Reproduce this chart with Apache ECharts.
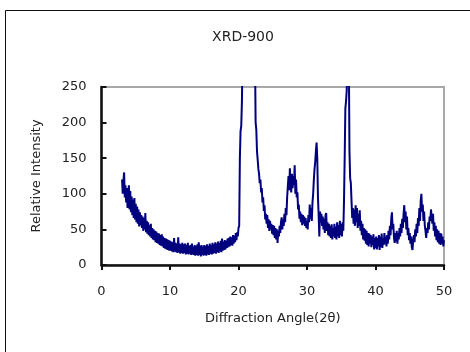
<!DOCTYPE html>
<html>
<head>
<meta charset="utf-8">
<script src="https://cdn.jsdelivr.net/npm/echarts@6/dist/echarts.min.js"></script>
<style>html,body{margin:0;padding:0;background:#fff}#c{width:470px;height:352px}</style>
</head>
<body>
<div id="c"></div>
<script>
// Sampling of the scan: first angle and step (degrees 2θ)
var angleStart = 3.0;
var angleStep = 0.1;
// Relative intensity, one value per 0.1° from 3.0 to 50.0
var intensity = [
  120,100,118,130,95,112,88,108,80,100,
  112,78,104,74,96,70,92,66,94,64,
  86,60,82,58,78,54,74,56,70,52,
  68,48,66,50,73,46,62,44,60,42,
  56,40,58,38,52,36,50,35,48,32,
  47,31,45,30,44,28,42,27,43,26,
  40,24,38,23,37,22,36,21,35,20,
  34,20,33,19,32,18,38,19,31,18,
  30,17,39,18,30,16,29,17,31,16,
  29,17,30,15,28,16,31,15,27,16,
  28,14,30,15,26,14,28,13,27,14,
  29,13,32,14,27,12,28,14,26,13,
  28,14,27,13,29,15,27,14,30,16,
  28,15,31,16,29,17,32,16,30,18,
  33,17,31,19,34,18,37,20,33,21,
  35,22,34,24,37,25,38,26,40,28,
  39,27,42,30,41,32,45,35,46,40,
  52,55,150,188,195,230,300,500,700,850,
  950,1000,1000,980,950,900,850,800,750,700,
  620,550,480,400,300,200,190,160,148,135,
  128,115,120,102,108,88,95,76,84,64,
  72,58,70,52,64,48,62,50,58,44,
  56,42,55,38,52,36,50,31,48,40,
  55,45,60,67,50,64,55,72,60,80,
  70,95,110,125,105,136,110,102,128,108,
  125,112,140,100,120,95,102,78,85,65,
  75,60,72,56,70,58,68,55,66,52,
  62,50,70,60,85,65,80,62,88,100,
  120,135,145,160,172,150,95,70,40,75,
  60,72,55,68,50,65,45,70,73,48,
  60,42,58,40,55,38,57,36,52,40,
  58,38,54,36,60,40,56,38,62,42,
  58,40,60,48,89,150,220,230,245,400,
  500,300,160,122,115,90,66,80,58,78,
  55,84,60,80,52,72,55,77,48,62,
  42,58,36,52,34,50,30,48,28,45,
  26,44,30,42,25,40,28,43,22,38,
  24,40,22,38,26,42,21,40,25,44,
  24,38,28,45,30,40,26,42,30,48,
  36,55,42,65,74,50,58,38,31,45,
  33,48,30,45,36,52,40,58,45,65,
  52,72,84,60,75,50,68,42,52,35,
  45,30,40,25,21,35,42,32,50,40,
  58,45,66,55,80,62,90,100,75,85,
  62,75,55,48,38,52,45,60,50,68,
  62,78,80,58,72,48,60,40,55,35,
  50,32,48,30,45,28,44,30,40,26,
  35
];
var xTicks = [0, 10, 20, 30, 40, 50];
var yTicks = [0, 50, 100, 150, 200, 250];

var points = intensity.map(function (v, i) {
  return [+(angleStart + i * angleStep).toFixed(1), v];
});

var font = 'DejaVu Sans';
var chart = echarts.init(document.getElementById('c'), null, {renderer: 'canvas'});
chart.setOption({
  animation: false,
  backgroundColor: '#fff',
  title: {
    text: 'XRD-900',
    left: 238, top: 25, textAlign: 'center',
    textStyle: {fontFamily: font, fontSize: 14, fontWeight: 'normal', color: '#222'}
  },
  graphic: [{
    type: 'rect', silent: true, z: 100,
    shape: {x: 5.5, y: 10.5, width: 600, height: 500},
    style: {fill: null, stroke: '#111', lineWidth: 1}
  }],
  grid: {
    left: 101.5, right: 26, top: 87, bottom: 87,
    show: true, borderColor: '#a8a8a8', borderWidth: 2, backgroundColor: 'rgba(0,0,0,0)'
  },
  xAxis: {
    type: 'value', min: xTicks[0], max: xTicks[xTicks.length - 1], interval: 10,
    name: 'Diffraction Angle(2\u03B8)', nameLocation: 'middle', nameGap: 47,
    nameTextStyle: {fontFamily: font, fontSize: 13, color: '#222'},
    axisLine: {show: true, onZero: false, lineStyle: {color: '#111', width: 2.5}},
    axisTick: {show: true, inside: false, length: 5, lineStyle: {color: '#111', width: 2}},
    axisLabel: {margin: 20, fontFamily: font, fontSize: 13, color: '#222'},
    splitLine: {show: false}
  },
  yAxis: {
    type: 'value', min: yTicks[0], max: yTicks[yTicks.length - 1], interval: 50,
    name: 'Relative Intensity', nameLocation: 'middle', nameGap: 58, nameRotate: 90,
    nameTextStyle: {fontFamily: font, fontSize: 13, color: '#222'},
    axisLine: {show: true, lineStyle: {color: '#111', width: 2.5}},
    axisTick: {show: true, inside: true, length: 5, lineStyle: {color: '#111', width: 2}},
    axisLabel: {margin: 15, fontFamily: font, fontSize: 13, color: '#222'},
    splitLine: {show: false}
  },
  series: [{
    type: 'line', data: points, showSymbol: false, clip: true,
    lineStyle: {color: '#00007f', width: 2},
    itemStyle: {color: '#00007f'}
  }]
});
</script>
</body>
</html>
